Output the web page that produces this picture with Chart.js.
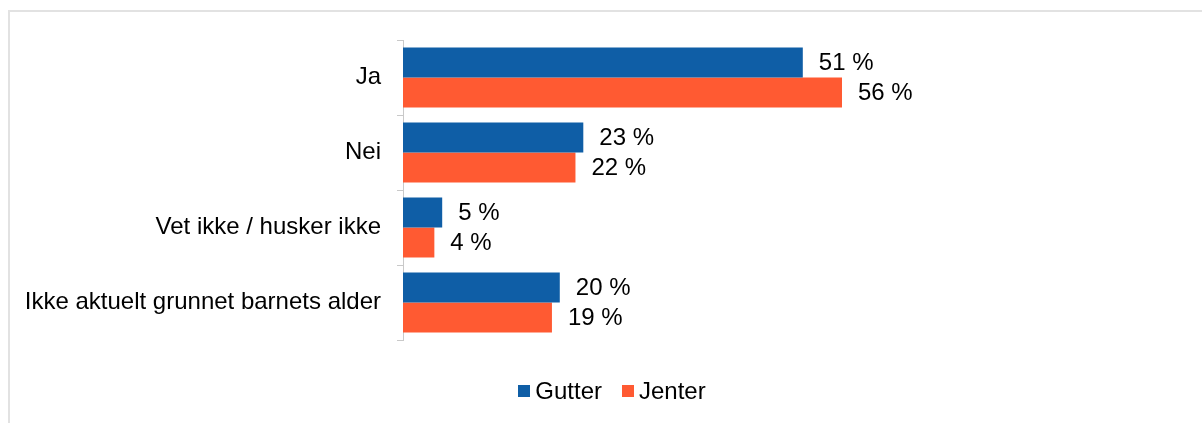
<!DOCTYPE html>
<html>
<head>
<meta charset="utf-8">
<script src="https://cdn.jsdelivr.net/npm/chart.js@4"></script>
<style>
  html, body { margin: 0; padding: 0; overflow: hidden; background: #fff; }
  #frame { position: absolute; left: 8px; top: 10px; width: 1210px; height: 430px; border: 2px solid #e2e2e2; }
  #wrap { position: absolute; left: 0; top: 0; width: 1202px; height: 423px; }
  #legend { position: absolute; left: 11px; width: 1202px; top: 377px; display: flex; justify-content: center;
            font: 24px "Liberation Sans", Arial, sans-serif; color: #000; line-height: 28px; }
  #legend span { display: inline-flex; align-items: center; margin: 0 10px; }
  #legend i { display: inline-block; width: 12px; height: 12px; margin-right: 5px; }
</style>
</head>
<body>
<div id="frame"></div>
<div id="wrap"><canvas id="chart"></canvas></div>
<div id="legend"></div>
<script>
// Values (percent)
const categories = ['Ja', 'Nei', 'Vet ikke / husker ikke', 'Ikke aktuelt grunnet barnets alder'];
const gutter = [51, 23, 5, 20];
const jenter = [56, 22, 4, 19];
const seriesNames = ['Gutter', 'Jenter'];
const seriesColors = ['#0F5EA6', '#FF5A32'];

const FONT = '"Liberation Sans", Arial, sans-serif';

// Simple value labels next to each bar
const valueLabels = {
  id: 'valueLabels',
  afterDatasetsDraw(chart) {
    const ctx = chart.ctx;
    ctx.save();
    ctx.font = '24px ' + FONT;
    ctx.fillStyle = '#000';
    ctx.textAlign = 'left';
    ctx.textBaseline = 'middle';
    chart.data.datasets.forEach((ds, i) => {
      chart.getDatasetMeta(i).data.forEach((bar, j) => {
        ctx.fillText(ds.data[j] + ' %', bar.x + 16, bar.y + 1);
      });
    });
    ctx.restore();
  }
};

const chart = new Chart(document.getElementById('chart'), {
  type: 'bar',
  data: {
    labels: categories,
    datasets: [
      { label: seriesNames[0], data: gutter, backgroundColor: seriesColors[0] },
      { label: seriesNames[1], data: jenter, backgroundColor: seriesColors[1] }
    ]
  },
  options: {
    indexAxis: 'y',
    responsive: true,
    maintainAspectRatio: false,
    animation: false,
    datasets: { bar: { categoryPercentage: 0.8, barPercentage: 1.0 } },
    layout: { padding: { top: 40, right: 19, bottom: 83, left: 0 } },
    scales: {
      x: {
        min: 0, max: 99.5,
        display: false
      },
      y: {
        grid: { drawOnChartArea: false, drawTicks: true, tickLength: 6, color: '#c9c9c9' },
        border: { display: true, color: '#c9c9c9', width: 1 },
        ticks: { color: '#000', padding: 16, font: { size: 24, family: FONT } },
        afterFit(scale) { scale.width = 403; }
      }
    },
    plugins: {
      legend: { display: false },
      tooltip: { enabled: false }
    }
  },
  plugins: [valueLabels]
});

// HTML legend built from the chart's datasets
document.getElementById('legend').innerHTML = chart.data.datasets
  .map(ds => `<span><i style="background:${ds.backgroundColor}"></i>${ds.label}</span>`)
  .join('');
</script>
</body>
</html>
